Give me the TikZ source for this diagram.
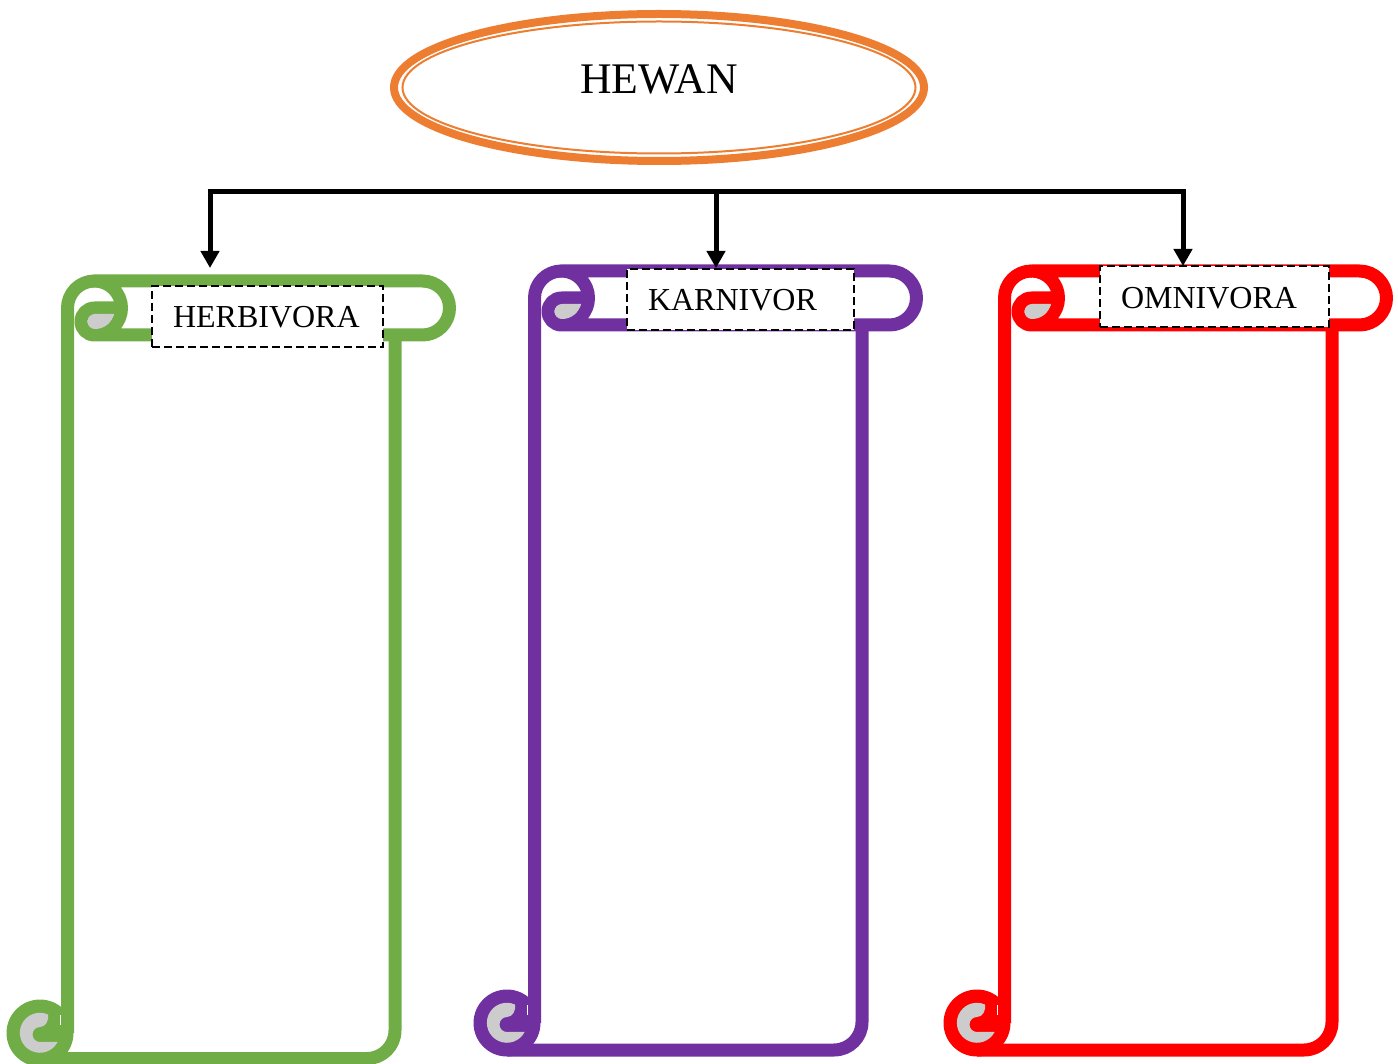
\documentclass[tikz,border=0pt]{standalone}
\usepackage{fontspec}
\setmainfont{Liberation Serif}
\usetikzlibrary{arrows.meta,shapes.geometric}
\definecolor{cgreen}{HTML}{70AD47}
\definecolor{cpurple}{HTML}{7030A0}
\definecolor{cred}{HTML}{FF0000}
\definecolor{corange}{HTML}{ED7D31}
\definecolor{cgray}{HTML}{CCCCCC}
\tikzset{
  scrollline/.style={line width=13pt,line join=round},
  labelbox/.style={draw=black,fill=white,dash pattern=on 8pt off 4pt,line width=2.6pt,anchor=north west,outer sep=0pt,
     minimum height=61pt,inner xsep=21pt,inner ysep=0pt,align=left,text depth=0pt,font=\fontsize{32}{36}\selectfont},
  ringouter/.style={ellipse,draw=corange,line width=8pt,inner sep=0pt,minimum width=530pt,minimum height=147pt},
  ringinner/.style={ellipse,draw=corange,line width=2pt,inner sep=0pt,minimum width=513pt,minimum height=132pt},
  titletext/.style={font=\fontsize{43.7}{48}\selectfont,inner sep=0pt},
  busline/.style={line width=5pt,draw=black},
  droparrow/.style={line width=5pt,draw=black,-{Triangle[width=18pt,length=17pt]}},
}
% #1,#2 shift; #3 colour; #4 bottom centre line
\newcommand{\scrollshape}[4]{%
 \begin{scope}[shift={(#1,#2)}]
  \fill[#3] (40,-1033) circle[radius=33.5];
  \draw[#3,scrollline] (121.5,-308) -- (94.5,-308) arc[start angle=90,end angle=270,radius=13.5]
     -- (422.5,-335) arc[start angle=-90,end angle=90,radius=27]
     -- (94.5,-281) arc[start angle=90,end angle=-90,radius=27];
  \draw[#3,scrollline] (94.5,-281) arc[start angle=90,end angle=180,radius=27] -- (67.5,-1033);
  \draw[#3,scrollline] (395,-330) -- (395,-#4+28) arc[start angle=0,end angle=-90,radius=28] -- (40,-#4);
  \fill[cgray] (114,-314) -- (95,-314) arc[start angle=90,end angle=270,radius=7.5]
     .. controls (105,-329) and (112,-322) .. (114,-314) -- cycle;
  \fill[cgray] (48,-1014.5) arc[start angle=66,end angle=333,radius=20] -- (40,-1042)
     arc[start angle=270,end angle=90,radius=7.5]
     .. controls (46,-1027) and (49,-1020) .. (48,-1014.5) -- cycle;
  \draw[white,line width=1pt] (60,-1015) -- (60,-1025);
 \end{scope}}
\begin{document}
\begin{tikzpicture}[x=1pt,y=1pt]
\useasboundingbox (0,0) rectangle (1398,-1064);
\clip (0,0) rectangle (1398,-1064);
% title
\node[ringouter] (hewanring) at (659,-87.5) {};
\node[ringinner] (hewaninner) at (659,-87.5) {};
\node[titletext] (hewan) at (659,-79) {HEWAN};
% scrolls
\scrollshape{0}{0}{cgreen}{1058.5}
\scrollshape{467}{10}{cpurple}{1060}
\scrollshape{937}{10}{cred}{1060}
% labels
\node[labelbox,minimum width=231pt,text width=189pt,text height=23pt] (herb) at (152,-286) {HERBIVORA};
\node[labelbox,minimum width=227pt,text width=185pt,text height=23pt] (karn) at (627,-269) {KARNIVOR};
\node[labelbox,minimum width=229pt,text width=187pt,text height=24pt] (omni) at (1100,-266) {OMNIVORA};
% connectors
\coordinate (busL) at (210,-191.5);
\coordinate (busM) at (716,-191.5);
\coordinate (busR) at (1183,-191.5);
\coordinate (tipL) at (210,-268);
\coordinate (tipM) at (716,-268);
\coordinate (tipR) at (1183,-266);
\draw[droparrow] (busM) -- (tipM);
\draw[droparrow] (busR) -- (tipR);
\draw[droparrow] (busL) -- (tipL);
\draw[busline] ([xshift=-2.5pt]busL) -- ([xshift=2.5pt]busR);
\end{tikzpicture}
\end{document}
